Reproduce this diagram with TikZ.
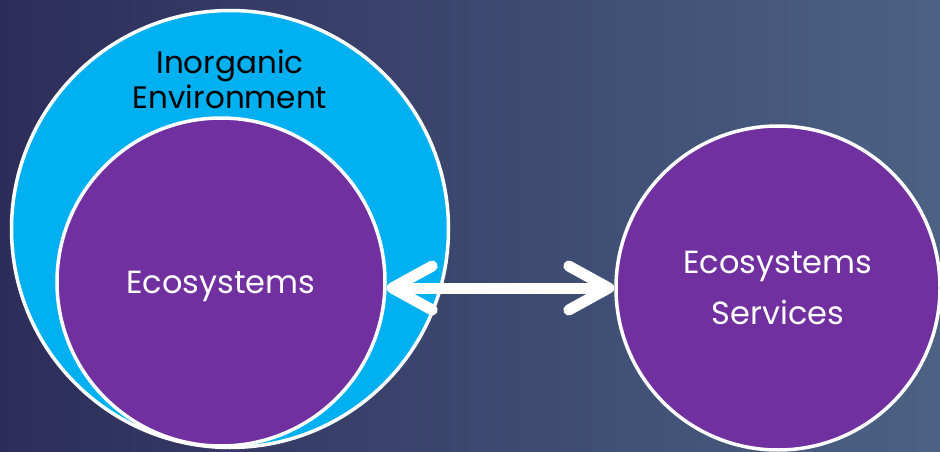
\documentclass[tikz,border=0pt]{standalone}
\usepackage{fontspec}
\setmainfont{Poppins}
\usepackage{tikz}
\usetikzlibrary{positioning, shapes.geometric, arrows.meta}
\definecolor{bgdark}{HTML}{2D2D5A}
\definecolor{bglight}{HTML}{4B6283}
\definecolor{envcyan}{HTML}{00B0F0}
\definecolor{ecopurple}{HTML}{7030A0}
\tikzstyle{envcircle} = [circle, minimum size=437pt, inner sep=0pt, fill=envcyan, draw=white, line width=3.5pt]
\tikzstyle{ecocircle} = [circle, minimum size=328pt, inner sep=0pt, fill=ecopurple, draw=white, line width=3.5pt, text=white, align=center, font=\fontsize{32}{51}\selectfont]
\tikzstyle{envtitle} = [align=center, text=black, font=\fontsize{31}{35}\selectfont]
\tikzstyle{arrow} = [line width=11pt, draw=white, line cap=round, <->, >={Straight Barb[round,length=40pt,width=44pt]}]

\begin{document}
\begin{tikzpicture}[x=1pt, y=-1pt]
		\useasboundingbox (0,0) rectangle (940,452);
		%背景
		\shade[left color=bgdark, right color=bglight] (0,0) rectangle (940,452);
		%圆
		\node (env) [envcircle] at (230,229) {};
		\node (envtext) [envtitle] at (230,79) {Inorganic\\Environment};
		\node (eco) [ecocircle] at (221,282) {\raisebox{-11pt}[0pt][0pt]{Ecosystems}};
		\node (serv) [ecocircle, minimum size=324pt] at (778,288) {Ecosystems\\Services};
		
		%连接
		\draw [arrow]([yshift=-6pt]eco.east) -- (serv.west);
		
	\end{tikzpicture}
\end{document}
